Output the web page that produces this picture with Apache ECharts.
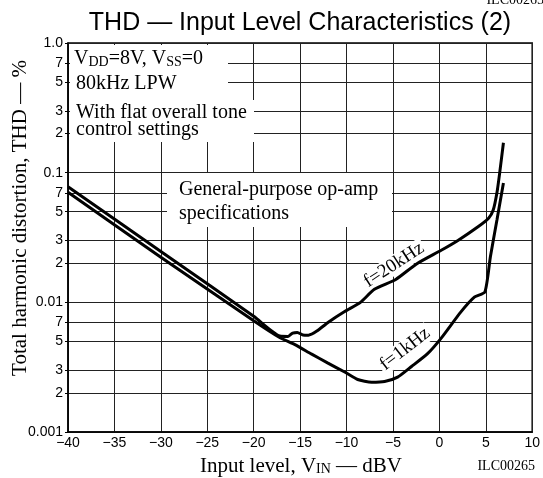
<!DOCTYPE html>
<html>
<head>
<meta charset="utf-8">
<script src="https://cdn.jsdelivr.net/npm/echarts@6/dist/echarts.min.js"></script>
<style>
  html, body { margin: 0; padding: 0; background: #fff; }
  #chart { width: 543px; height: 478px; }
</style>
</head>
<body>
<div id="chart"></div>
<script>
// input level (dBV) vs THD (%)
const level20k = [-40, -30, -20, -17.2, -16.3, -15.8, -15.3, -14.7, -14.1, -13.2, -12, -10.2, -8.5, -7, -4.7, -2.5, 0.2, 2, 4.2, 5.3, 5.8, 6.2, 6.5, 6.9]
const thd20k = [0.078, 0.0247, 0.0078, 0.0055, 0.00546, 0.0058, 0.00586, 0.0056, 0.00558, 0.006, 0.007, 0.0085, 0.01, 0.0126, 0.015, 0.0197, 0.0252, 0.03, 0.0384, 0.0445, 0.0515, 0.07, 0.1, 0.17]
const level1k = [-40, -30, -20, -17.3, -15.5, -13.8, -12, -10.2, -8.8, -7.3, -5.9, -4.5, -3, -1.3, 0.2, 2.3, 3.8, 4.9, 5.5, 6.2, 6.9]
const thd1k = [0.0706, 0.0223, 0.0072, 0.0054, 0.0047, 0.004, 0.0034, 0.0029, 0.00254, 0.00242, 0.00245, 0.00265, 0.0032, 0.004, 0.0053, 0.0084, 0.011, 0.012, 0.0226, 0.0431, 0.0834]

const yTicks = [0.001, 0.002, 0.003, 0.005, 0.007, 0.01, 0.02, 0.03, 0.05, 0.07, 0.1, 0.2, 0.3, 0.5, 0.7, 1]
const yTickLabels = ['0.001', '2', '3', '5', '7', '0.01', '2', '3', '5', '7', '0.1', '2', '3', '5', '7', '1.0']

const serif = '"Liberation Serif", "DejaVu Serif", serif'
const sans = '"Liberation Sans", Arial, sans-serif'

function yLabel(v) {
  for (let i = 0; i < yTicks.length; i++) {
    if (Math.abs(Math.log10(v) - Math.log10(yTicks[i])) < 1e-6) return yTickLabels[i]
  }
  return ''
}

function pairs(xs, ys) {
  return xs.map((x, i) => [x, ys[i]])
}

const sub = { fontSize: 14, lineHeight: 8, verticalAlign: 'bottom', fontFamily: serif }

function txt(x, y, text, size, extra) {
  return Object.assign({
    type: 'text', x: x, y: y, z: 5,
    style: Object.assign({
      text: text, fill: '#000', fontFamily: serif, fontSize: size,
      align: 'left', verticalAlign: 'middle', rich: { s: sub, n: { fontSize: size, lineHeight: 20, fontFamily: serif } }
    }, extra && extra.style)
  }, extra && extra.el)
}

const chart = echarts.init(document.getElementById('chart'))

chart.setOption({
  animation: false,
  grid: { left: 68, right: 8, top: 43, bottom: 46, show: true, borderColor: '#000', borderWidth: 1.5 },
  xAxis: {
    type: 'value', min: -40, max: 10, interval: 5,
    axisLine: { onZero: false, lineStyle: { color: '#000', width: 1.5 } },
    axisTick: { show: false },
    axisLabel: {
      color: '#000', fontFamily: sans, fontSize: 14, margin: 4,
      formatter: v => String(v).replace('-', '\u2212')
    },
    splitLine: { lineStyle: { color: '#222', width: 1 } }
  },
  yAxis: {
    type: 'log', logBase: 10, min: 0.001, max: 1,
    axisLine: { onZero: false, lineStyle: { color: '#000', width: 1.5 } },
    axisTick: { show: true, length: 3, customValues: yTicks, lineStyle: { color: '#000' } },
    axisLabel: {
      color: '#000', fontFamily: sans, fontSize: 14, margin: 5,
      customValues: yTicks, formatter: yLabel
    },
    splitLine: { lineStyle: { color: '#222', width: 1 } }
  },
  series: [
    {
      name: 'f=20kHz', type: 'line', data: pairs(level20k, thd20k),
      showSymbol: false, smooth: 0.2, z: 10,
      lineStyle: { color: '#000', width: 3 }
    },
    {
      name: 'f=1kHz', type: 'line', data: pairs(level1k, thd1k),
      showSymbol: false, smooth: 0.2, z: 10,
      lineStyle: { color: '#000', width: 3 }
    }
  ],
  graphic: [
    // white patches behind the notes
    { type: 'rect', z: 4, shape: { x: 70, y: 45, width: 158, height: 55 }, style: { fill: '#fff' } },
    { type: 'rect', z: 4, shape: { x: 70, y: 100, width: 184, height: 42 }, style: { fill: '#fff' } },
    { type: 'rect', z: 4, shape: { x: 167, y: 173, width: 225, height: 54 }, style: { fill: '#fff' } },
    txt(74, 59, '{n|V}{s|DD}{n|=8V, V}{s|SS}{n|=0}', 20),
    txt(76, 84, '80kHz LPW', 20),
    txt(76, 113, 'With flat overall tone', 20),
    txt(76, 130, 'control settings', 20),
    txt(179, 190, 'General-purpose op-amp', 20),
    txt(179, 214, 'specifications', 20),
    txt(394, 265, 'f=20kHz', 19, { el: { rotation: 33 * Math.PI / 180 }, style: { align: 'center', backgroundColor: '#fff', padding: [0, 2] } }),
    txt(405, 349, 'f=1kHz', 19, { el: { rotation: 38 * Math.PI / 180 }, style: { align: 'center', backgroundColor: '#fff', padding: [0, 2] } }),
    // title and axis names
    {
      type: 'text', x: 300, y: 23, z: 5,
      style: { text: 'THD \u2014 Input Level Characteristics (2)', fill: '#000', fontFamily: sans, fontSize: 25, align: 'center', verticalAlign: 'middle' }
    },
    txt(301, 466, '{n|Input level, V}{s|IN}{n| \u2014 dBV}', 21, { style: { align: 'center', rich: { s: { fontSize: 14, lineHeight: 8, verticalAlign: 'bottom', fontFamily: serif }, n: { fontSize: 21, lineHeight: 21, fontFamily: serif } } } }),
    txt(20, 218, 'Total harmonic distortion, THD \u2014 %', 21, { el: { rotation: Math.PI / 2 }, style: { align: 'center' } }),
    txt(535, 466, 'ILC00265', 14, { style: { align: 'right' } }),
    txt(544, 7, 'ILC00265', 14, { style: { align: 'right', verticalAlign: 'bottom' } })
  ]
})
</script>
</body>
</html>
